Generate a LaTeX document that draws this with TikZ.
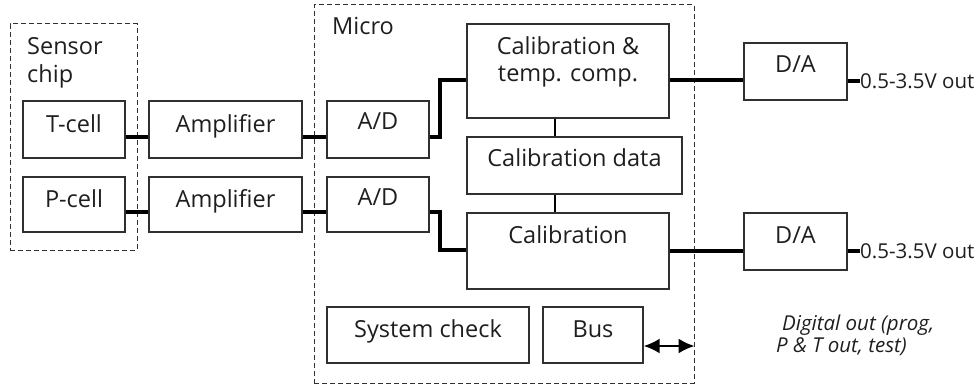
\documentclass[tikz,border=0pt]{standalone}
\usepackage{fontspec}
\setmainfont{Open Sans}
\usetikzlibrary{arrows.meta,calc}
\definecolor{ink}{HTML}{1E1E1E}
\definecolor{edge}{HTML}{303030}
\tikzset{
  blk/.style={draw=edge,line width=1.4pt,inner sep=0pt,anchor=center},
  grp/.style={draw=edge,line width=1pt,dash pattern=on 5pt off 3pt},
  lbl/.style={text=ink,inner sep=0pt,anchor=base,font=\fontsize{23.5}{26}\selectfont},
  lbll/.style={text=ink,inner sep=0pt,anchor=base west,font=\fontsize{23.5}{26}\selectfont},
  outl/.style={text=ink,inner sep=0pt,anchor=west,font=\fontsize{20.5}{22}\selectfont},
  ital/.style={text=ink,inner sep=0pt,anchor=base west,font=\fontsize{20.5}{22}\selectfont\itshape},
  conn/.style={draw=black,line width=3.8pt},
  thin/.style={draw=black,line width=2.4pt},
}
\begin{document}
\begin{tikzpicture}[x=1pt,y=-1pt]
\useasboundingbox (0,0) rectangle (977,385);
% group frames
\node[grp,inner sep=0pt,minimum width=127pt,minimum height=226pt] (sensor) at (73.5,137) {};
\node[grp,inner sep=0pt,minimum width=380pt,minimum height=378pt] (micro) at (504,194) {};
\node[lbll] (sensorlbl) at (27,55) {Sensor};
\node[lbll] (chiplbl) at (27,83) {chip};
\node[lbll] (microlbl) at (332,35) {Micro};
% blocks
\node[blk,minimum width=102pt,minimum height=57pt] (tcell) at (74,129.5) {};
\node[blk,minimum width=102pt,minimum height=55pt] (pcell) at (74,204.5) {};
\node[blk,minimum width=153pt,minimum height=57pt] (amp1) at (225.5,129.5) {};
\node[blk,minimum width=153pt,minimum height=55pt] (amp2) at (225.5,204.5) {};
\node[blk,minimum width=102pt,minimum height=57pt] (ad1) at (378,129.5) {};
\node[blk,minimum width=102pt,minimum height=55pt] (ad2) at (378,204.5) {};
\node[blk,minimum width=202pt,minimum height=94pt] (cal1) at (568,71) {};
\node[blk,minimum width=215pt,minimum height=57pt] (caldata) at (574.5,165.5) {};
\node[blk,minimum width=202pt,minimum height=76pt] (cal2) at (568,251) {};
\node[blk,minimum width=202pt,minimum height=56pt] (syscheck) at (428,335) {};
\node[blk,minimum width=100pt,minimum height=56pt] (bus) at (593,335) {};
\node[blk,minimum width=103pt,minimum height=57pt] (da1) at (795.5,71.5) {};
\node[blk,minimum width=103pt,minimum height=57pt] (da2) at (795.5,241.5) {};
% block texts
\node[lbl] (tcelltxt) at (74,132) {T-cell};
\node[lbl] (pcelltxt) at (74,207) {P-cell};
\node[lbl] (amp1txt) at (225.5,132) {Amplifier};
\node[lbl] (amp2txt) at (225.5,207) {Amplifier};
\node[lbl] (ad1txt) at (378,130) {A/D};
\node[lbl] (ad2txt) at (378,205) {A/D};
\node[lbl] (cal1txta) at (568,55) {Calibration \&};
\node[lbl] (cal1txtb) at (568,82) {temp. comp.};
\node[lbl] (caldatatxt) at (574.5,167) {Calibration data};
\node[lbl] (cal2txt) at (568,243) {Calibration};
\node[lbl] (systxt) at (428,337) {System check};
\node[lbl] (bustxt) at (593,337) {Bus};
\node[lbl] (da1txt) at (795.5,73) {D/A};
\node[lbl] (da2txt) at (795.5,243) {D/A};
\node[outl] (out1) at (860,81) {0.5-3.5V out};
\node[outl] (out2) at (860,251) {0.5-3.5V out};
\node[ital] (dig1) at (782,330) {Digital out (prog,};
\node[ital] (dig2) at (776,352) {\textit{P} \& \textit{T} out, test)};
\coordinate (busend) at (micro.east |- 0,346);
% connectors
\draw[conn] (tcell.east |- 0,137) -- (amp1.west |- 0,137);
\draw[conn] (pcell.east |- 0,212) -- (amp2.west |- 0,212);
\draw[conn] (amp1.east |- 0,137) -- (ad1.west |- 0,137);
\draw[conn] (amp2.east |- 0,212) -- (ad2.west |- 0,212);
\draw[conn] (ad1.east |- 0,137) -- (440,137) -- (440,80) -- (cal1.west |- 0,80);
\draw[conn] (ad2.east |- 0,212) -- (440,212) -- (440,250) -- (cal2.west |- 0,250);
\draw[thin] (cal1.south -| 555,0) -- (caldata.north -| 555,0);
\draw[thin] (caldata.south -| 555,0) -- (cal2.north -| 555,0);
\draw[conn] (cal1.east |- 0,80) -- (da1.west |- 0,80);
\draw[conn] (cal2.east |- 0,251) -- (da2.west |- 0,251);
\draw[conn] (da1.east |- out1.west) -- (out1.west);
\draw[conn] (da2.east |- out2.west) -- (out2.west);
\draw[draw=black,line width=2pt,{Latex[length=16pt,width=15pt]}-{Latex[length=16pt,width=15pt]}] (bus.east |- busend) -- (busend);
\end{tikzpicture}
\end{document}
